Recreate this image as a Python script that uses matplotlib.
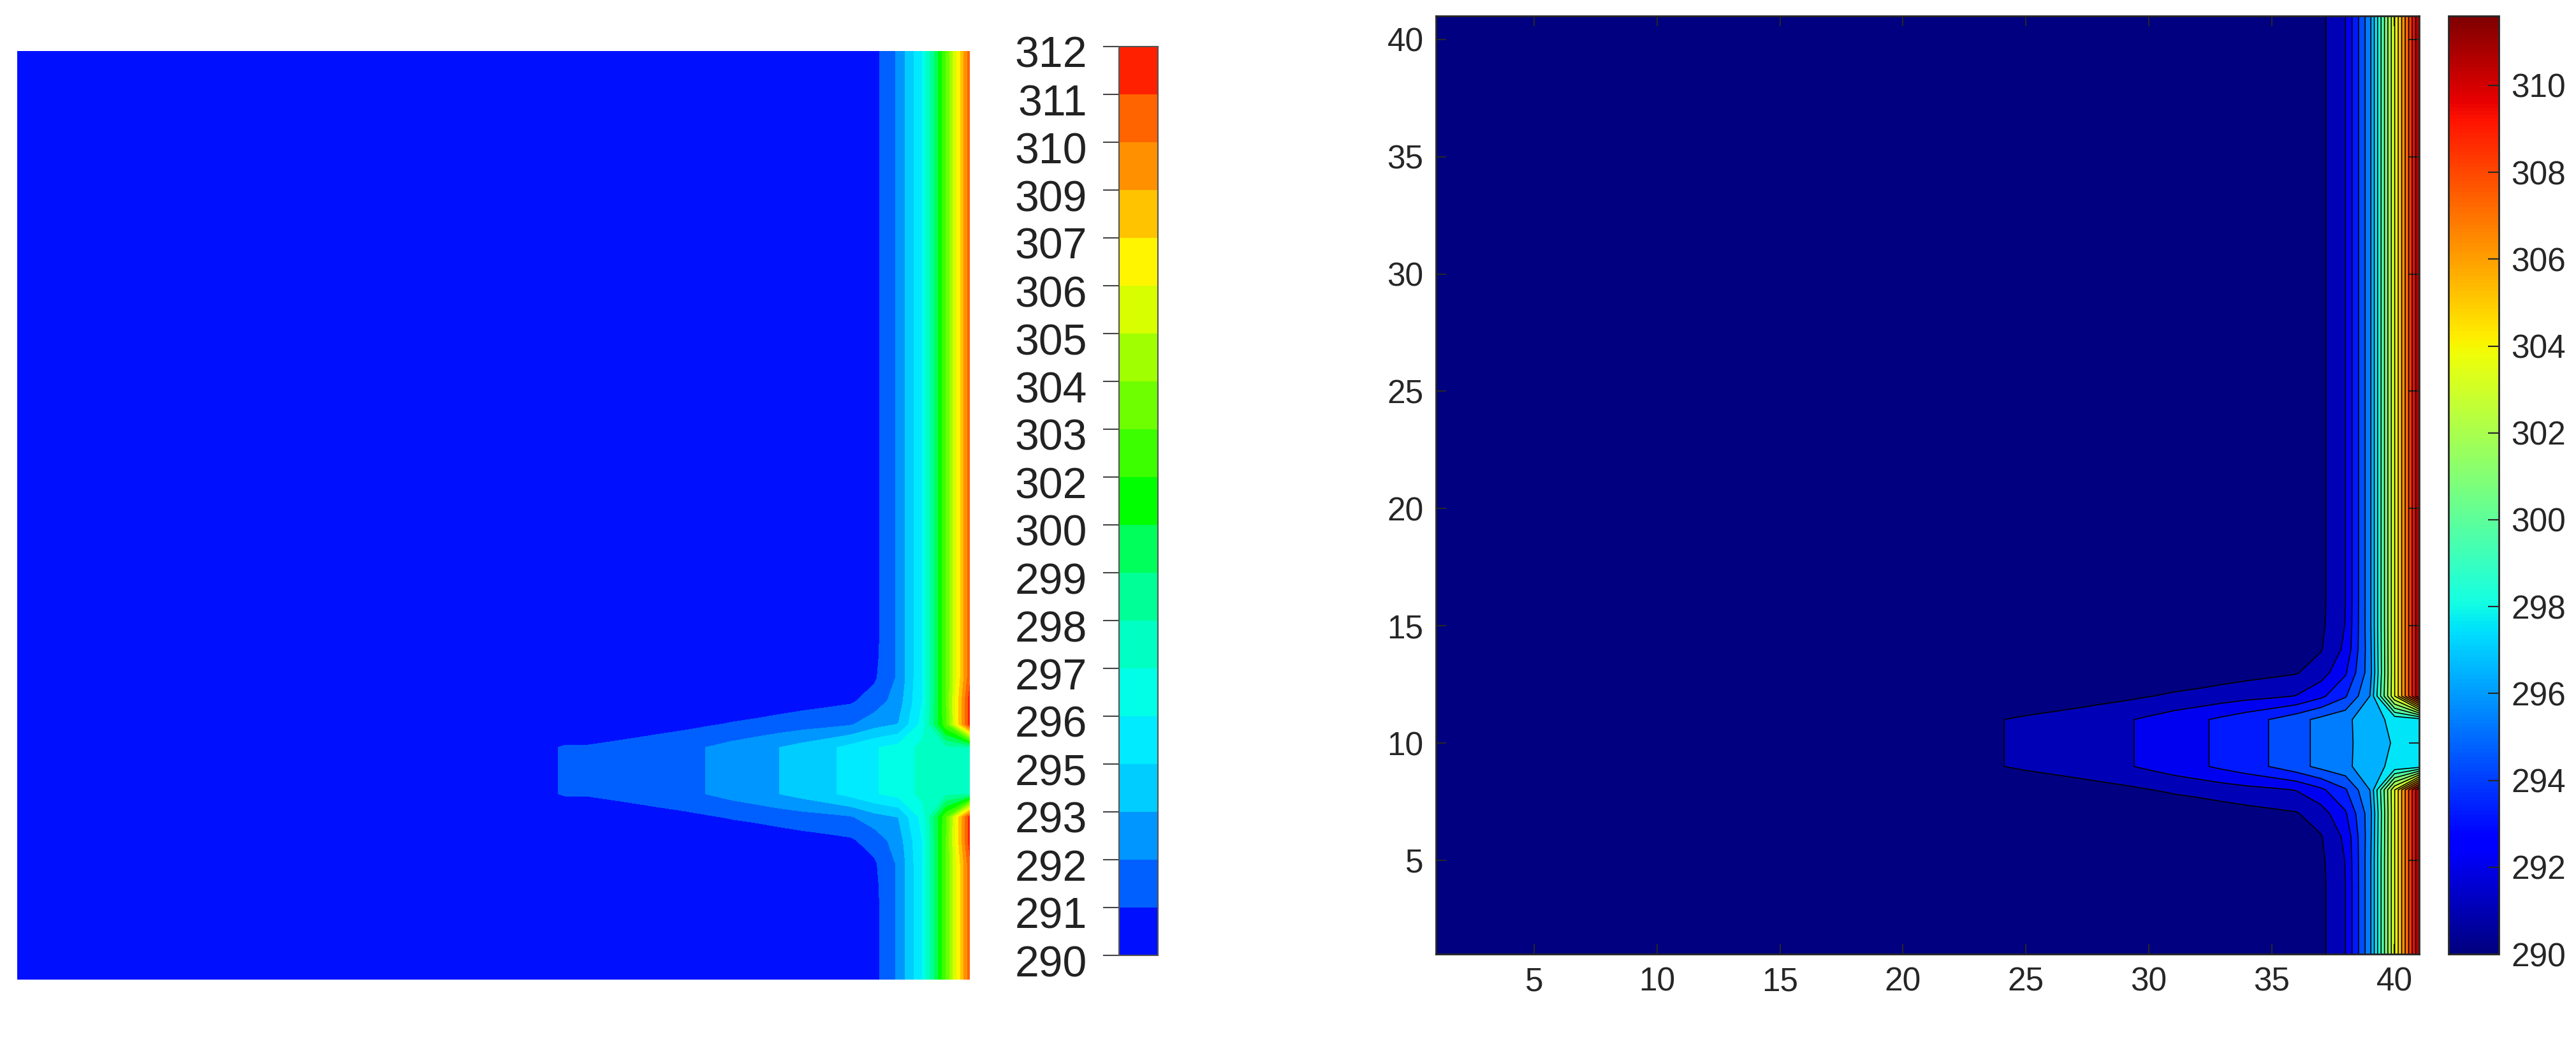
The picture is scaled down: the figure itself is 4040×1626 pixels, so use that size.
import numpy as np
import matplotlib
matplotlib.use('Agg')
import matplotlib.pyplot as plt
from matplotlib.colors import BoundaryNorm, ListedColormap, Normalize
from matplotlib.cm import ScalarMappable
from matplotlib.transforms import ScaledTranslation

plt.rcParams['font.family'] = ['Liberation Sans', 'DejaVu Sans']

W, H = 4040, 1626

#Temperatures, columns x = 23..41 (x < 23 is all 290)
first_col = 23
row_far = [290, 290, 290, 290, 290, 290, 290, 290, 290, 290, 290, 290, 290, 290.1, 290.8, 292.15, 296.2, 304, 311.6]
row_15 = [290, 290, 290, 290, 290, 290, 290, 290, 290, 290, 290, 290, 290, 290.2, 290.85, 292.2, 296.2, 304, 311.6]
row_14 = [290, 290, 290, 290, 290, 290, 290, 290, 290, 290, 290.05, 290.15, 290.3, 290.5, 291.0, 292.4, 296.1, 304, 311.6]
row_13 = [290, 290, 290, 290, 290, 290, 290, 290.1, 290.25, 290.4, 290.55, 290.7, 290.85, 291.0, 291.65, 293.1, 296.0, 304, 311.6]
row_12 = [290, 290, 290, 290.19, 290.4, 290.62, 290.84, 291.04, 291.25, 291.4, 291.6, 291.8, 291.95, 292.2, 293.0, 294.2, 296.5, 304, 311.6]
row_11 = [290, 291.05, 291.3, 291.5, 291.7, 291.9, 292.03, 292.35, 292.7, 293.05, 293.47, 293.9, 294.38, 295.0, 295.7, 296.2, 297.2, 297.8, 298.1]
row_10 = [290, 291.05, 291.3, 291.5, 291.7, 291.9, 292.03, 292.35, 292.7, 293.05, 293.47, 293.9, 294.38, 295.0, 295.7, 296.2, 297.1, 297.65, 298.0]

#y value -> row, the hot spot is symmetric around y = 10
rows_by_y = {5: row_15, 6: row_14, 7: row_13, 8: row_12, 9: row_11, 10: row_10,
             11: row_11, 12: row_12, 13: row_13, 14: row_14, 15: row_15}

#Left picture has softer wall layers, columns x = 38..41
left_wall_far = [292.5, 295.8, 302.7, 310.5]
left_wall_12 = [293.5, 296.2, 302.5, 311.5]
left_wall_13 = [292.9, 295.8, 302.7, 311.5]
left_wall_11 = [296.2, 297.3, 297.8, 298.0]
#and its tip reaches a little further left, columns x = 23..24
left_tip = [290.85, 291.28]

left_labels = [290, 291, 292, 293, 295, 296, 297, 298, 299, 300, 302, 303, 304, 305, 306, 307, 309, 310, 311, 312]
left_band_colors = ['#0010ff', '#0060ff', '#0096ff', '#00cdff', '#00ebff', '#00ffe6', '#00ffc3', '#00ff96', '#00ff5a',
                    '#00ff00', '#3cff00', '#6eff00', '#a0ff00', '#d7ff00', '#fff500', '#ffc300', '#ff9100', '#ff6400', '#ff2000']
right_xticks = [5, 10, 15, 20, 25, 30, 35, 40]
right_yticks = [5, 10, 15, 20, 25, 30, 35, 40]
right_cticks = [290, 292, 294, 296, 298, 300, 302, 304, 306, 308, 310]


def pixel_axes(fig, left, top, right, bottom):
    return fig.add_axes([left / W, 1 - bottom / H, (right - left) / W, (bottom - top) / H])


#Build the 41x41 field
x = np.arange(1, 42)
y = np.arange(1, 42)
Z = np.full((41, 41), 290.0)
for yy in y:
    Z[yy - 1, first_col - 1:] = rows_by_y.get(yy, row_far)

Z_left = Z.copy()
for yy in y:
    if yy in (9, 10, 11):
        Z_left[yy - 1, 37:] = left_wall_11
        Z_left[yy - 1, first_col - 1:first_col + 1] = left_tip
    elif yy in (8, 12):
        Z_left[yy - 1, 37:] = left_wall_12
    elif yy in (7, 13):
        Z_left[yy - 1, 37:] = left_wall_13
    else:
        Z_left[yy - 1, 37:] = left_wall_far

fig = plt.figure(figsize=(W / 100, H / 100), dpi=100)

#Left panel, banded rainbow with no axes
left_levels = np.linspace(290, 312, 20)
left_cmap = ListedColormap(left_band_colors)
left_norm = BoundaryNorm(left_levels, 19)

ax1 = pixel_axes(fig, 27, 80, 1521, 1536)
ax1.contourf(x, y, Z_left, levels=left_levels, colors=left_band_colors)
ax1.set_xlim(1, 41)
ax1.set_ylim(1, 41)
ax1.axis('off')

cax1 = pixel_axes(fig, 1755, 73, 1816, 1498)
cb1 = fig.colorbar(ScalarMappable(norm=left_norm, cmap=left_cmap), cax=cax1, spacing='uniform', ticks=left_levels)
cax1.yaxis.set_ticks_position('left')
cax1.set_yticks(left_levels)
cax1.set_yticklabels([str(v) for v in left_labels])
cax1.minorticks_off()
cax1.tick_params(axis='y', length=18, width=1.5, color='#444444', pad=18, labelsize=49, labelcolor='#222222')
cb1.outline.set_edgecolor('#555555')
cb1.outline.set_linewidth(1.5)
for lab in cax1.get_yticklabels():
    lab.set_transform(lab.get_transform() + ScaledTranslation(0, -8 / 100, fig.dpi_scale_trans))

#Right panel, filled contours with black lines
right_levels = np.linspace(290, 311.6, 21)
right_norm = Normalize(290, 311.6)
jet = plt.get_cmap('jet')
right_colors = [jet(right_norm(v)) for v in right_levels[:-1]]

ax2 = pixel_axes(fig, 2252, 25, 3794, 1496)
ax2.contourf(x, y, Z, levels=right_levels, colors=right_colors)
ax2.contour(x, y, Z, levels=right_levels[1:-1], colors='k', linewidths=1.2)
ax2.set_xlim(1, 41)
ax2.set_ylim(1, 41)
ax2.set_xticks(right_xticks)
ax2.set_yticks(right_yticks)
ax2.tick_params(direction='in', length=11.5, width=1.5, color='#262626', top=True, right=True,
                labelsize=37, labelcolor='#262626', pad=14)
for s in ax2.spines.values():
    s.set_linewidth(2)
    s.set_edgecolor('#262626')

cax2 = pixel_axes(fig, 3840, 25, 3919, 1496)
cb2 = fig.colorbar(ScalarMappable(norm=right_norm, cmap=jet), cax=cax2, ticks=right_cticks)
cax2.tick_params(direction='in', length=12, width=1.5, color='#262626', labelsize=37, labelcolor='#262626', pad=14)
cb2.outline.set_edgecolor('#262626')
cb2.outline.set_linewidth(2)

fig.savefig('out.png', dpi=100)
